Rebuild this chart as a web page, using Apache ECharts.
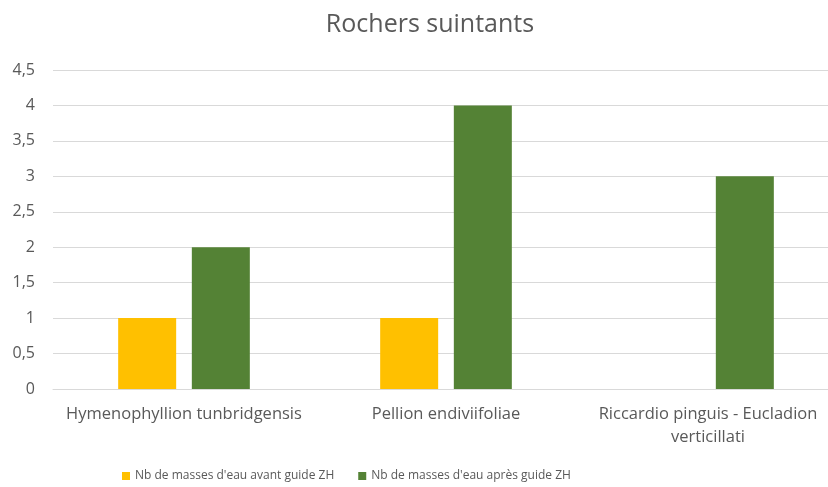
<!DOCTYPE html>
<html>
<head>
<meta charset="utf-8">
<script src="https://cdn.jsdelivr.net/npm/echarts@6/dist/echarts.min.js"></script>
<style>
  html, body { margin: 0; padding: 0; background: #fff; overflow: hidden; width: 828px; height: 487px; }
  #chart { width: 860px; height: 487px; }
</style>
</head>
<body>
<div id="chart"></div>
<script>
// Habitat groups on the x axis
const categories = [
  'Hymenophyllion tunbridgensis',
  'Pellion endiviifoliae',
  'Riccardio pinguis - Eucladion\nverticillati'
];
// Water-body counts before and after the wetland guide
const avantGuide = [1, 1, 0];
const apresGuide = [2, 4, 3];
const seriesNames = ["Nb de masses d'eau avant guide ZH", "Nb de masses d'eau après guide ZH"];

const FONT = '"Open Sans", "Noto Sans", sans-serif';
const TEXT = '#595959';

const chart = echarts.init(document.getElementById('chart'), null, { renderer: 'canvas' });
chart.setOption({
  animation: false,
  backgroundColor: '#fff',
  title: {
    text: 'Rochers suintants',
    left: 'center',
    top: 7,
    textStyle: { fontFamily: FONT, fontSize: 25, fontWeight: 'normal', color: TEXT }
  },
  legend: {
    bottom: 0,
    left: 117,
    itemWidth: 8,
    itemHeight: 8,
    itemGap: 24,
    icon: 'rect',
    textStyle: { fontFamily: FONT, fontSize: 12, color: TEXT }
  },
  grid: { left: 53, top: 70, right: 21, height: 319, containLabel: false },
  xAxis: {
    type: 'category',
    data: categories,
    axisTick: { show: false },
    axisLine: { lineStyle: { color: '#d9d9d9' } },
    axisLabel: { fontFamily: FONT, fontSize: 16.5, color: TEXT, margin: 14, lineHeight: 23, interval: 0 }
  },
  yAxis: {
    type: 'value',
    min: 0,
    max: 4.5,
    interval: 0.5,
    axisLine: { show: false },
    axisTick: { show: false },
    splitLine: { lineStyle: { color: '#d9d9d9' } },
    axisLabel: {
      fontFamily: FONT, fontSize: 16, color: TEXT, margin: 18,
      formatter: v => String(v).replace('.', ',')
    }
  },
  series: [
    { name: seriesNames[0], type: 'bar', data: avantGuide, barWidth: 58, barGap: '27%', itemStyle: { color: '#FFC000' } },
    { name: seriesNames[1], type: 'bar', data: apresGuide, barWidth: 58, barGap: '27%', itemStyle: { color: '#548235' } }
  ]
});
</script>
</body>
</html>
